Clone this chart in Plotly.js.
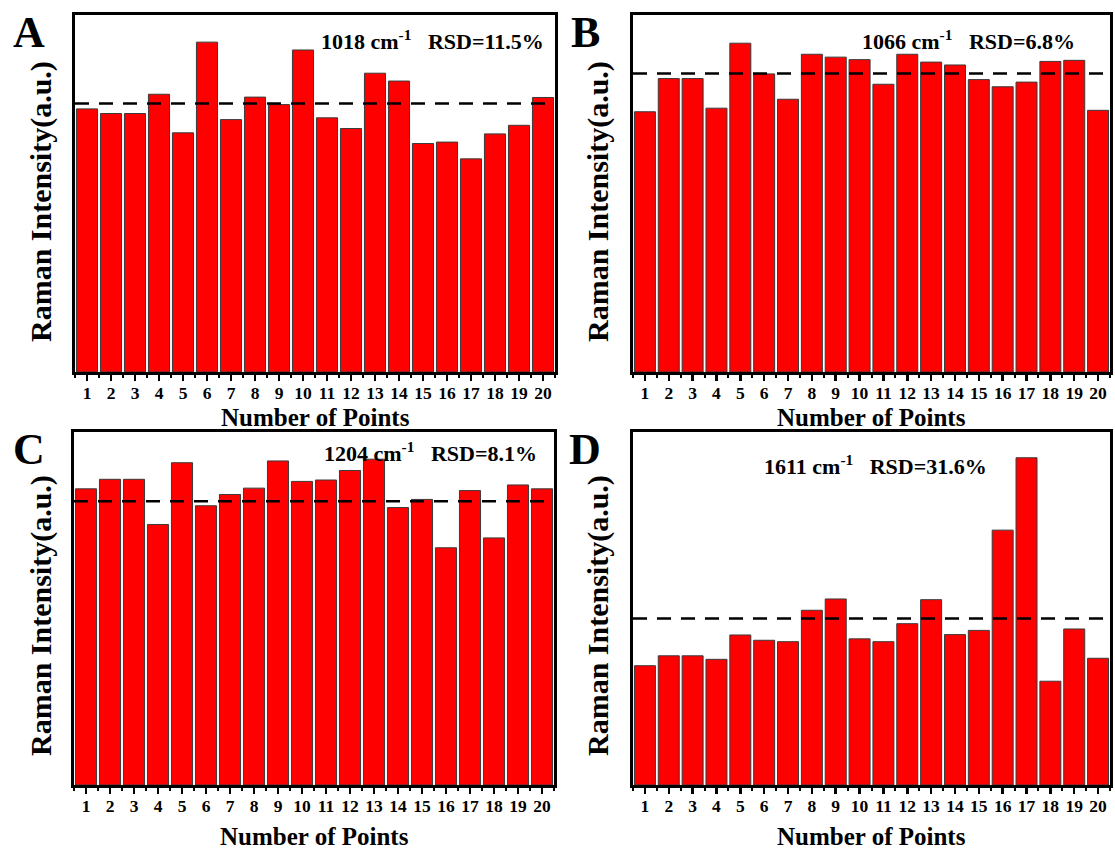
<!DOCTYPE html>
<html>
<head>
<meta charset="utf-8">
<script src="https://cdn.plot.ly/plotly-3.0.1.min.js"></script>
<style>html,body{margin:0;padding:0;background:#fff;}#chart{width:1115px;height:852px;}</style>
</head>
<body>
<div id="chart"></div>
<script>
// ---- data (relative Raman intensity, a.u.) ----
const points = [1,2,3,4,5,6,7,8,9,10,11,12,13,14,15,16,17,18,19,20];
const intensityA = [73.7,72.4,72.4,77.8,67.0,92.4,70.7,77.0,74.9,90.2,71.2,68.2,83.7,81.5,64.0,64.4,59.7,66.7,69.1,76.9];
const intensityB = [72.9,82.2,82.2,73.9,92.1,83.5,76.4,89.0,88.2,87.5,80.6,89.0,86.8,86.0,81.9,79.9,81.2,87.0,87.3,73.3];
const intensityC = [83.9,86.6,86.6,73.8,91.3,79.1,82.3,84.1,91.8,86.0,86.4,89.1,92.3,78.6,80.9,67.2,83.4,70.0,85.0,83.9];
const intensityD = [33.8,36.6,36.6,35.6,42.5,41.0,40.6,49.5,52.7,41.4,40.6,45.7,52.5,42.6,43.8,72.2,92.7,29.4,44.2,35.9];
const meanLevels = [75.2, 83.6, 80.4, 47.2];
const panelLetters = ['A','B','C','D'];
const peakLabels = ['1018','1066','1204','1611'];
const rsdLabels = ['11.5%','6.8%','8.1%','31.6%'];
const xTitle = 'Number of Points';
const yTitle = 'Raman Intensity(a.u.)';

const W = 1115, H = 852;
const FONT = 'Liberation Serif, Times New Roman, serif';
const series = [intensityA, intensityB, intensityC, intensityD];

// panel geometry in pixels: [left, right, top, bottom]
const boxes = [[75,555,15,372],[633,1110,15,372],[74,554,432,785],[633,1110,432,785]];
const letterPos = [[29,33],[585,33],[29,450],[585,450]];
const rsdPos = [[432,40],[968,40],[430,452],[875,465]];
const yTitlePos = [[41,202],[598,202],[41,616],[598,616]];
const xTitlePos = [[315,417],[871,417],[314,836],[871,836]];

const px = x => x / W;
const py = y => 1 - y / H;

const traces = [];
const layout = {
  width: W, height: H,
  margin: {l:0, r:0, t:0, b:0},
  paper_bgcolor: '#fff', plot_bgcolor: '#fff',
  showlegend: false,
  bargap: 0.12,
  font: {family: FONT, color: '#000'},
  annotations: []
};

series.forEach((vals, i) => {
  const k = i === 0 ? '' : String(i + 1);
  const xa = 'x' + k, ya = 'y' + k;
  traces.push({
    type: 'bar', x: points, y: vals, xaxis: xa, yaxis: ya,
    marker: {color: '#ff0000', line: {color: '#3a3a3a', width: 1}},
    hoverinfo: 'skip'
  });
  traces.push({
    type: 'scatter', mode: 'lines', x: [0.5, 20.5], y: [meanLevels[i], meanLevels[i]],
    xaxis: xa, yaxis: ya,
    line: {color: '#000', width: 2.5, dash: '14px,10px'},
    hoverinfo: 'skip'
  });
  const b = boxes[i];
  layout['xaxis' + k] = {
    domain: [px(b[0]), px(b[1])], anchor: ya,
    range: [0.5, 20.5], tickmode: 'array', tickvals: points, ticktext: points.map(String),
    ticks: 'outside', ticklen: 6, tickwidth: 2.5, tickcolor: '#000',
    ticklabelstandoff: -3,
    minor: {tick0: 0.5, dtick: 1, ticks: 'outside', ticklen: 3, tickwidth: 2, tickcolor: '#000', showgrid: false},
    showline: true, linewidth: 3, linecolor: '#000', mirror: true,
    showgrid: false, zeroline: false, fixedrange: true,
    tickfont: {family: FONT, size: 17.5, color: '#000', weight: 'bold'}
  };
  layout['yaxis' + k] = {
    domain: [py(b[3]), py(b[2])], anchor: xa,
    range: [0, 100], showticklabels: false, ticks: '',
    showline: true, linewidth: 3, linecolor: '#000', mirror: true,
    showgrid: false, zeroline: false, fixedrange: true
  };
  layout.annotations.push({
    xref: 'paper', yref: 'paper', x: px(letterPos[i][0]), y: py(letterPos[i][1]),
    text: '<b>' + panelLetters[i] + '</b>', showarrow: false, xanchor: 'center', yanchor: 'middle',
    font: {family: FONT, size: 44, color: '#000'}
  });
  layout.annotations.push({
    xref: 'paper', yref: 'paper', x: px(rsdPos[i][0]), y: py(rsdPos[i][1]),
    text: '<b>' + peakLabels[i] + ' cm<sup>-1</sup>\u00a0\u00a0\u00a0RSD=' + rsdLabels[i] + '</b>',
    showarrow: false, xanchor: 'center', yanchor: 'middle',
    font: {family: FONT, size: 22, color: '#000'}
  });
  layout.annotations.push({
    xref: 'paper', yref: 'paper', x: px(yTitlePos[i][0]), y: py(yTitlePos[i][1]),
    text: '<b>' + yTitle + '</b>', textangle: -90, showarrow: false, xanchor: 'center', yanchor: 'middle',
    font: {family: FONT, size: 30, color: '#000'}
  });
  layout.annotations.push({
    xref: 'paper', yref: 'paper', x: px(xTitlePos[i][0]), y: py(xTitlePos[i][1]),
    text: '<b>' + xTitle + '</b>', showarrow: false, xanchor: 'center', yanchor: 'middle',
    font: {family: FONT, size: 25, color: '#000'}
  });
});

Plotly.newPlot('chart', traces, layout, {displayModeBar: false, staticPlot: true});
</script>
</body>
</html>
